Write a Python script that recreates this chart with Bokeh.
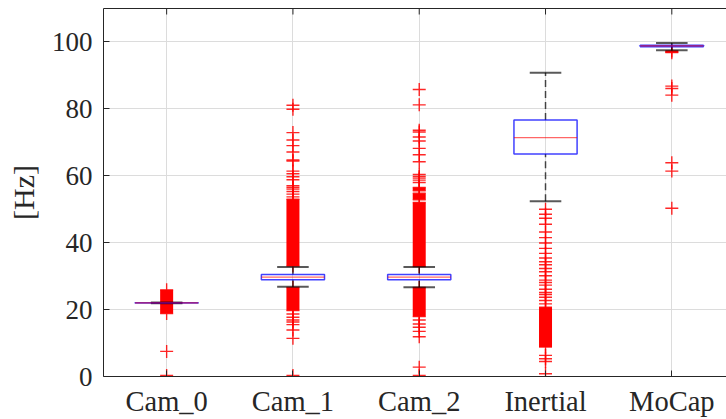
import math
from bokeh.plotting import figure
from bokeh.models import Range1d, FixedTicker, LinearAxis
from bokeh.embed import file_html
from bokeh.resources import INLINE

# ---------------- data ----------------
categories = ["Cam_0", "Cam_1", "Cam_2", "Inertial", "MoCap"]
q1 = [21.95, 28.9, 28.9, 66.5, 98.6]
median = [22.0, 29.7, 29.7, 71.4, 98.8]
q3 = [22.05, 30.5, 30.5, 76.7, 99.0]
whisker_low = [21.9, 26.8, 26.7, 52.4, 97.5]
whisker_high = [22.15, 32.7, 32.7, 90.8, 99.7]

out_cam0 = [7.5, 0.3]
out_cam1 = [81.1, 79.9, 72.9, 70.7, 69.0, 67.1, 64.7, 64.4, 61.4, 60.6, 59.7,
            58.8, 57.0, 56.5, 56.0, 55.3, 54.5, 53.7,
            18.7, 17.7, 16.9, 16.3, 15.5, 13.9, 11.4, 0.3]
out_cam2 = [85.8, 81.2, 73.6, 73.1, 71.6, 70.4, 68.2, 66.3, 64.2, 60.4, 59.8,
            59.3, 58.7, 58.0,
            16.9, 15.7, 14.7, 13.5, 11.9, 2.8, 0.3]
out_inertial = [50.0, 48.5, 47.3, 45.5, 43.2, 41.5, 39.9, 38.3, 36.8, 35.4,
                34.3, 33.4, 32.3, 31.3, 30.1, 28.8, 28.1, 27.3, 26.1, 25.1,
                24.5, 23.7, 22.7, 21.7, 6.3, 5.3, 4.5, 0.8]
out_mocap = [86.8, 86.1, 84.1, 63.9, 61.4, 50.3]

# dense runs of outliers (low, high) that render as solid red columns
band_cam0 = [(18.8, 25.9)]
band_cam1 = [(33.0, 53.0), (19.7, 26.6)]
band_cam2 = [(55.5, 56.5), (52.8, 54.8), (32.9, 52.0), (17.9, 26.6)]
band_inertial = [(8.8, 20.7)]
band_mocap = [(96.8, 97.3)]

y_ticks = [0, 20, 40, 60, 80, 100]
y_max = 110
y_label = "[Hz]"

# ---------------- styling ----------------
FONT = "Liberation Serif"
TXT = "#262626"
BOX_W = 0.5
CAP_W = 0.25

pos = list(range(1, len(categories) + 1))

p = figure(width=726, height=419, x_range=Range1d(0.5, 5.433), y_range=Range1d(0, y_max),
           output_backend="svg", toolbar_location=None,
           min_border_left=103, min_border_right=0, min_border_top=8, min_border_bottom=43)
p.outline_line_color = None
p.background_fill_color = "white"
p.border_fill_color = "white"

# axes
p.xaxis.ticker = FixedTicker(ticks=pos)
p.xaxis.major_label_overrides = {i: c for i, c in zip(pos, categories)}
p.yaxis.ticker = FixedTicker(ticks=y_ticks)
for ax in (p.xaxis[0], p.yaxis[0]):
    ax.axis_line_color = TXT
    ax.axis_line_width = 1
    ax.major_tick_line_color = TXT
    ax.major_tick_in = 6
    ax.major_tick_out = 0
    ax.minor_tick_line_color = None
    ax.major_label_text_font = FONT
    ax.major_label_text_color = TXT
p.xaxis.major_label_text_font_size = "28.5px"
p.yaxis.major_label_text_font_size = "27px"
p.xaxis.major_label_standoff = 9
p.yaxis.major_label_standoff = 11
p.yaxis.axis_label = y_label
p.yaxis.axis_label_text_font = FONT
p.yaxis.axis_label_text_font_size = "30px"
p.yaxis.axis_label_text_font_style = "normal"
p.yaxis.axis_label_text_color = TXT
p.yaxis.axis_label_standoff = 9

# top box edge (no labels) with inward ticks drawn as rays
top = LinearAxis(ticker=FixedTicker(ticks=[]), axis_line_color=TXT,
                 major_tick_line_color=None, minor_tick_line_color=None,
                 major_label_standoff=0, major_tick_out=0, major_tick_in=0)
p.add_layout(top, "above")
p.ray(x=pos, y=[y_max] * len(pos), length=6, length_units="screen",
      angle=-math.pi / 2, line_color=TXT, line_width=1)

p.xgrid.ticker = FixedTicker(ticks=pos)
p.ygrid.ticker = FixedTicker(ticks=y_ticks)
for g in (p.xgrid[0], p.ygrid[0]):
    g.grid_line_color = "#dcdcdc"
    g.grid_line_width = 1

# outliers
all_out = [out_cam0, out_cam1, out_cam2, out_inertial, out_mocap]
all_band = [band_cam0, band_cam1, band_cam2, band_inertial, band_mocap]
ox, oy = [], []
for x, vals in zip(pos, all_out):
    ox += [x] * len(vals)
    oy += vals
bx, by, bh, ex, ey = [], [], [], [], []
for x, bands in zip(pos, all_band):
    for lo, hi in bands:
        bx.append(x); by.append((lo + hi) / 2); bh.append(hi - lo)
        ex += [x, x]; ey += [lo, hi]

p.rect(x=bx, y=by, width=13, height=bh, width_units="screen",
       fill_color="#ff0000", line_color=None)
p.scatter(x=ex + ox, y=ey + oy, marker="cross", size=13, line_color="#ff0000",
          line_width=1.4, line_alpha=0.85)

# whiskers
p.segment(x0=pos, y0=q3, x1=pos, y1=whisker_high, line_color="black", line_alpha=0.7,
          line_width=1.5, line_dash="7 4")
p.segment(x0=pos, y0=whisker_low, x1=pos, y1=q1, line_color="black", line_alpha=0.7,
          line_width=1.5, line_dash="7 4")
# caps
p.segment(x0=[x - CAP_W / 2 for x in pos], y0=whisker_high, x1=[x + CAP_W / 2 for x in pos],
          y1=whisker_high, line_color="black", line_alpha=0.65, line_width=2)
p.segment(x0=[x - CAP_W / 2 for x in pos], y0=whisker_low, x1=[x + CAP_W / 2 for x in pos],
          y1=whisker_low, line_color="black", line_alpha=0.65, line_width=2)
# boxes
p.quad(left=[x - BOX_W / 2 for x in pos], right=[x + BOX_W / 2 for x in pos],
       bottom=q1, top=q3, fill_color=None, line_color="#0000ff", line_alpha=0.75, line_width=1.5)
# medians
p.segment(x0=[x - BOX_W / 2 for x in pos], y0=median, x1=[x + BOX_W / 2 for x in pos],
          y1=median, line_color="#ff0000", line_alpha=0.6, line_width=1.3)

open("out.html", "w").write(file_html(p, INLINE))
